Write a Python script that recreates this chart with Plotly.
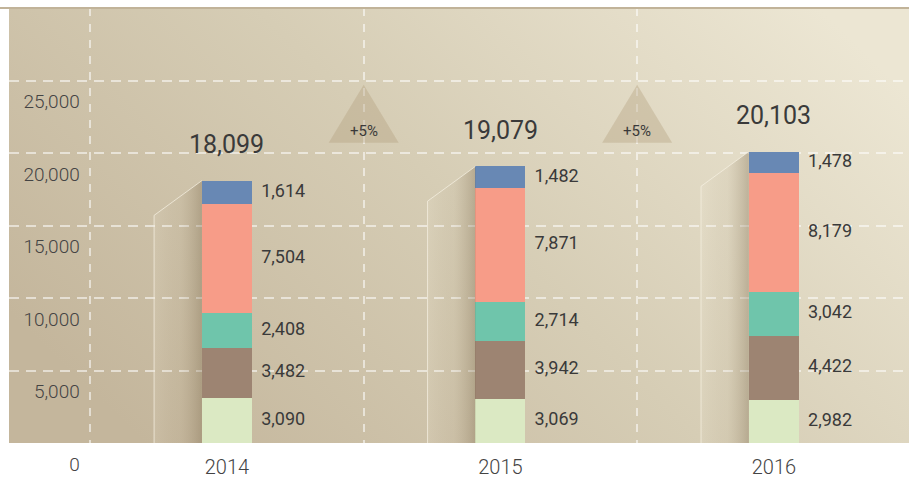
import base64
import plotly.graph_objects as go

# ---------------- data ----------------
years = ["2014", "2015", "2016"]
seg_light = [3090, 3069, 2982]
seg_brown = [3482, 3942, 4422]
seg_teal = [2408, 2714, 3042]
seg_salmon = [7504, 7871, 8179]
seg_blue = [1614, 1482, 1478]
totals = [18099, 19079, 20103]
growth = ["+5%", "+5%"]
y_ticks = [0, 5000, 10000, 15000, 20000, 25000]

# ---------------- styles ----------------
series = [seg_light, seg_brown, seg_teal, seg_salmon, seg_blue]
colors = ["#dbe9c3", "#9d8472", "#6fc5ab", "#f79c88", "#6888b4"]
FONT = "Roboto"
TXT = "#3a3a3a"
GRID = "rgba(255,255,255,0.55)"
BAR_W = 0.183
x_pos = list(range(len(years)))

fig = go.Figure()

# background gradient image
svg = ('<svg xmlns="http://www.w3.org/2000/svg" width="900" height="436" viewBox="0 0 900 436" '
       'preserveAspectRatio="none"><defs><linearGradient id="g" x1="0" y1="0.7" x2="1" y2="0.2">'
       '<stop offset="0" stop-color="#c4b69c"/><stop offset="0.5" stop-color="#d6cdb5"/>'
       '<stop offset="1" stop-color="#ece6d3"/></linearGradient></defs>'
       '<rect width="900" height="436" fill="url(#g)"/></svg>')
bg_src = "data:image/svg+xml;base64," + base64.b64encode(svg.encode()).decode()

# shadows + thin edge lines to the left of each bar
for i, t in enumerate(totals):
    top = sum(s[i] for s in series)
    xl = i - BAR_W / 2
    xo = xl - 0.175
    fig.add_trace(go.Scatter(
        x=[xo, xo, xl, xl, xo], y=[0, top - 2400, top, 0, 0],
        fill="toself", mode="lines", line=dict(width=0),
        fillgradient=dict(type="horizontal",
                          colorscale=[[0, "rgba(255,250,235,0.10)"], [0.55, "rgba(150,130,100,0.06)"],
                                      [1, "rgba(110,90,60,0.32)"]]),
        hoverinfo="skip", showlegend=False))
    fig.add_trace(go.Scatter(
        x=[xo, xo, xl], y=[0, top - 2400, top], mode="lines",
        line=dict(color="rgba(245,240,225,0.75)", width=1),
        hoverinfo="skip", showlegend=False))

# growth triangles
tri_base, tri_top = 20700, 24700
for k, g in enumerate(growth):
    xm = k + 0.5
    fig.add_trace(go.Scatter(
        x=[xm - 0.128, xm, xm + 0.128, xm - 0.128], y=[tri_base, tri_top, tri_base, tri_base],
        fill="toself", mode="lines", line=dict(width=0),
        fillcolor="rgba(175,155,120,0.35)", hoverinfo="skip", showlegend=False))
    fig.add_annotation(x=xm, y=tri_base, yshift=12, text=g, showarrow=False,
                       font=dict(family=FONT, size=15, color=TXT))

# stacked bars
for s, c in zip(series, colors):
    fig.add_trace(go.Bar(x=x_pos, y=s, width=BAR_W, marker=dict(color=c, line=dict(width=0)),
                         hoverinfo="skip", showlegend=False))

# segment labels
lx, ly, lt = [], [], []
for i in x_pos:
    cum = 0
    for s in series:
        lx.append(i + 0.125)
        ly.append(cum + s[i] / 2)
        lt.append(f"{s[i]:,}")
        cum += s[i]
fig.add_trace(go.Scatter(x=lx, y=ly, text=lt, mode="text", textposition="middle right",
                         textfont=dict(family=FONT, size=18, color=TXT),
                         hoverinfo="skip", showlegend=False))

# totals
for i, t in enumerate(totals):
    fig.add_annotation(x=i, y=t, yshift=36, text=f"{t:,}", showarrow=False,
                       font=dict(family=FONT, size=25, color=TXT))

fig.update_layout(
    width=909, height=481,
    margin=dict(l=9, r=0, t=8, b=38),
    paper_bgcolor="white", plot_bgcolor="rgba(0,0,0,0)",
    barmode="stack",
    images=[dict(source=bg_src, xref="paper", yref="paper", x=0, y=1, sizex=1, sizey=1,
                 xanchor="left", yanchor="top", sizing="stretch", layer="below")],
    shapes=[dict(type="line", xref="paper", yref="paper", x0=-0.011, x1=1.0, y0=1.0, y1=1.0,
                 line=dict(color="#c1b399", width=2))],
    xaxis=dict(range=[-0.797, 2.494], tickvals=x_pos, ticktext=years, showgrid=False,
               zeroline=False, showline=False, ticks="", ticklabelstandoff=10,
               tickfont=dict(family=FONT, size=20, color="#444", weight=300),
               minor=dict(tickvals=[-0.5, 0.5, 1.5], showgrid=True, gridcolor=GRID,
                          griddash="8px,8px", gridwidth=2, ticks="")),
    yaxis=dict(range=[0, 30000], tickvals=y_ticks, ticktext=[f"{v:,}" for v in y_ticks],
               showgrid=False, zeroline=False, showline=False, ticks="",
               anchor="free", position=0.0786, ticklabelshift=21,
               tickfont=dict(family=FONT, size=19, color="#444", weight=300),
               minor=dict(tickvals=[5000, 10000, 15000, 20000, 25000], showgrid=True,
                          gridcolor=GRID, griddash="10px,7px", gridwidth=2, ticks="")),
)

fig.write_html("out.html", config={"displayModeBar": False},
               post_script="document.body.style.margin='0';")
